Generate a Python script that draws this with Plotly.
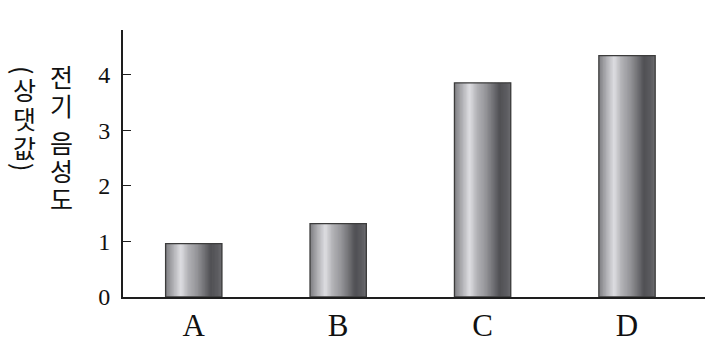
import plotly.graph_objects as go

categories = ["A", "B", "C", "D"]
values = [0.96, 1.32, 3.85, 4.34]
y_ticks = [0, 1, 2, 3, 4]
title_main = "전기 음성도"
title_unit = "(상댓값)"

# metallic cylinder gradient stops (position 0..1, grey level)
grad_pos = [0.0, 0.12, 0.27, 0.40, 0.55, 0.70, 0.80, 0.92, 1.0]
grad_lvl = [125, 170, 222, 178, 150, 110, 80, 92, 105]

def interp(p):
    for k in range(len(grad_pos) - 1):
        if grad_pos[k] <= p <= grad_pos[k + 1]:
            t = (p - grad_pos[k]) / (grad_pos[k + 1] - grad_pos[k])
            return grad_lvl[k] + t * (grad_lvl[k + 1] - grad_lvl[k])
    return grad_lvl[-1]

W = 0.39
N = 40
fig = go.Figure()
sw = W / N
for i in range(N):
    p = (i + 0.5) / N
    g = int(round(interp(p)))
    col = f"rgb({g},{g},{min(255, g + 4)})"
    fig.add_trace(go.Bar(
        x=categories, y=values,
        width=sw * 1.6 if i < N - 1 else sw,
        offset=-W / 2 + i * sw,
        marker=dict(color=col, line=dict(width=0)),
        hoverinfo="skip", showlegend=False,
    ))
# outline
fig.add_trace(go.Bar(
    x=categories, y=values, width=W, offset=-W / 2,
    marker=dict(color="rgba(0,0,0,0)", line=dict(color="#3c3c3c", width=1.3)),
    showlegend=False,
))

fig.update_layout(
    barmode="overlay",
    width=713, height=349,
    margin=dict(l=123, r=8, t=30, b=52),
    paper_bgcolor="white", plot_bgcolor="white",
    xaxis=dict(
        range=[-0.49, 3.54], showgrid=False, zeroline=False, automargin=False,
        showline=True, linecolor="#1e1e1e", linewidth=1.8,
        ticks="", tickfont=dict(family="Liberation Serif", size=31, color="#111"),
        ticklabelstandoff=0,
    ),
    yaxis=dict(
        range=[0, 4.8], showgrid=False, zeroline=False, automargin=False,
        showline=True, linecolor="#1e1e1e", linewidth=1.8,
        tickvals=y_ticks, ticks="inside", ticklen=8, tickwidth=1.3, tickcolor="#1e1e1e",
        tickfont=dict(family="Liberation Serif", size=24, color="#111"),
        ticklabelstandoff=6,
    ),
)

kfont = dict(family="Noto Sans CJK KR", size=25, color="#111")

def ypaper(py):
    return (297 - py) / 267

# vertical (stacked) axis title
right_y = [76, 105, None, 142, 170, 198]
for ch, py in zip(title_main, right_y):
    if ch.strip() == "" or py is None:
        continue
    fig.add_annotation(text=ch, xref="paper", yref="paper", x=0, y=ypaper(py),
                       xshift=61 - 123, showarrow=False, xanchor="center", yanchor="middle",
                       font=kfont)
left_y = [70, 89, 118, 147, 167]
for ch, py in zip(title_unit, left_y):
    ang = 90 if ch in "()" else 0
    fig.add_annotation(text=ch, xref="paper", yref="paper", x=0, y=ypaper(py),
                       xshift=24 - 123, showarrow=False, xanchor="center", yanchor="middle",
                       textangle=ang, font=kfont)

fig.write_html("out.html")
